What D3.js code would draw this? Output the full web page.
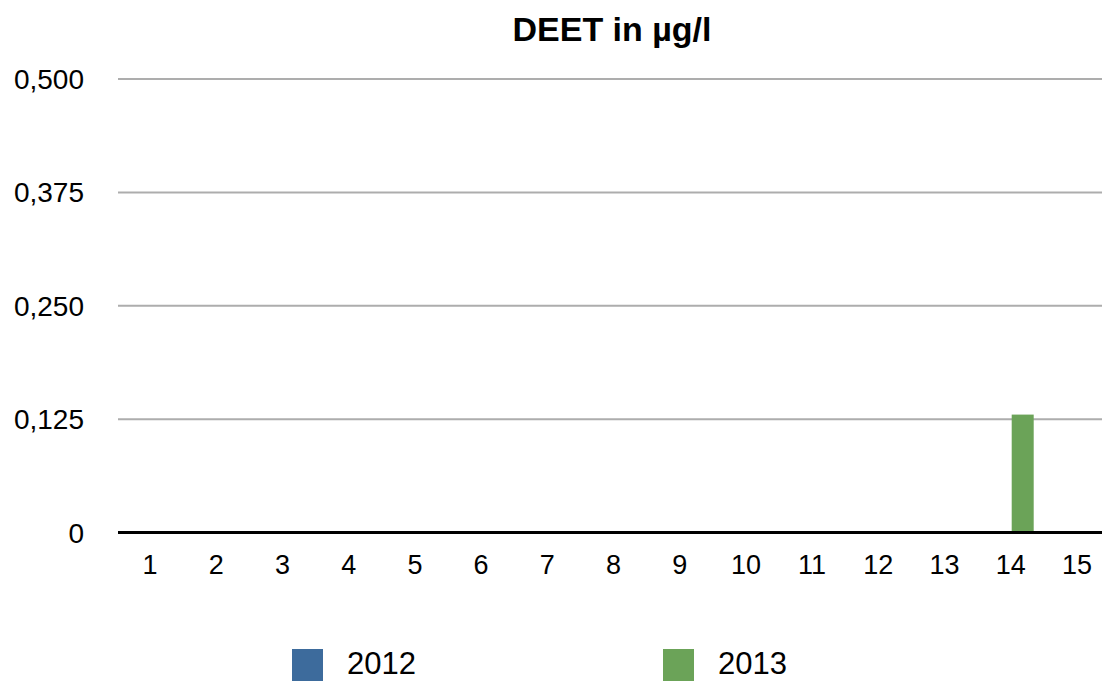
<!DOCTYPE html>
<html>
<head>
<meta charset="utf-8">
<script src="https://cdn.jsdelivr.net/npm/d3@7"></script>
<style>
  html, body { margin: 0; padding: 0; background: #fff; }
  svg { display: block; font-family: "Liberation Sans", Arial, Helvetica, sans-serif; }
</style>
</head>
<body>
<svg id="chart" width="1102" height="681"></svg>
<script>
const categories = ["1","2","3","4","5","6","7","8","9","10","11","12","13","14","15"];
const seriesNames = ["2012", "2013"];
const values2012 = [0,0,0,0,0,0,0,0,0,0,0,0,0,0,0];
const values2013 = [0,0,0,0,0,0,0,0,0,0,0,0,0,0.13,0];
const yTicks = [0, 0.125, 0.25, 0.375, 0.5];
const colors = ["#3d6b9c", "#6ba358"];
const title = "DEET in µg/l";

const svg = d3.select("#chart");
const plotLeft = 118, plotRight = 1102;

const x = d3.scaleBand().domain(categories).range([117, 1110]).paddingInner(0).paddingOuter(0);
const y = d3.scaleLinear().domain([0, 0.5]).range([532.5, 79]);
const barW = 22;
const sub = d3.scaleBand().domain(seriesNames).range([0, barW * 2]);

// title
svg.append("text")
  .attr("x", 612).attr("y", 41)
  .attr("text-anchor", "middle")
  .attr("font-weight", "bold")
  .attr("font-size", 34)
  .attr("fill", "#000")
  .text(title);

// gridlines
const fmt = v => v === 0 ? "0" : d3.format(".3f")(v).replace(".", ",");
svg.append("g").selectAll("line")
  .data(yTicks.filter(t => t !== 0))
  .join("line")
  .attr("x1", plotLeft).attr("x2", plotRight)
  .attr("y1", d => y(d)).attr("y2", d => y(d))
  .attr("stroke", "#adadad").attr("stroke-width", 2);

// y labels
svg.append("g").selectAll("text")
  .data(yTicks)
  .join("text")
  .attr("x", 84).attr("y", d => y(d))
  .attr("dy", "0.36em")
  .attr("text-anchor", "end")
  .attr("font-size", 28)
  .attr("fill", "#000")
  .text(fmt);

// bars
const rows = categories.map((c, i) => ({ c, vals: [values2012[i], values2013[i]] }));
const groups = svg.append("g").selectAll("g")
  .data(rows)
  .join("g")
  .attr("transform", d => `translate(${x(d.c) + x.bandwidth() / 2 - barW + 1},0)`);
groups.selectAll("rect")
  .data(d => d.vals.map((v, k) => ({ s: seriesNames[k], v, k })))
  .join("rect")
  .attr("x", d => sub(d.s))
  .attr("width", sub.bandwidth())
  .attr("y", d => y(d.v))
  .attr("height", d => y(0) - y(d.v))
  .attr("fill", d => colors[d.k]);

// x axis line
svg.append("line")
  .attr("x1", plotLeft).attr("x2", plotRight)
  .attr("y1", y(0)).attr("y2", y(0))
  .attr("stroke", "#000").attr("stroke-width", 3);

// x labels
svg.append("g").selectAll("text")
  .data(categories)
  .join("text")
  .attr("x", d => x(d) + x.bandwidth() / 2)
  .attr("y", 574)
  .attr("text-anchor", "middle")
  .attr("font-size", 27)
  .attr("fill", "#000")
  .text(d => d);

// legend
const legendX = [292, 663];
const lg = svg.append("g").selectAll("g")
  .data(seriesNames)
  .join("g")
  .attr("transform", (d, i) => `translate(${legendX[i]},649)`);
lg.append("rect").attr("width", 31).attr("height", 32).attr("fill", (d, i) => colors[i]);
lg.append("text")
  .attr("x", 55).attr("y", 25)
  .attr("font-size", 31)
  .attr("fill", "#000")
  .text(d => d);
</script>
</body>
</html>
